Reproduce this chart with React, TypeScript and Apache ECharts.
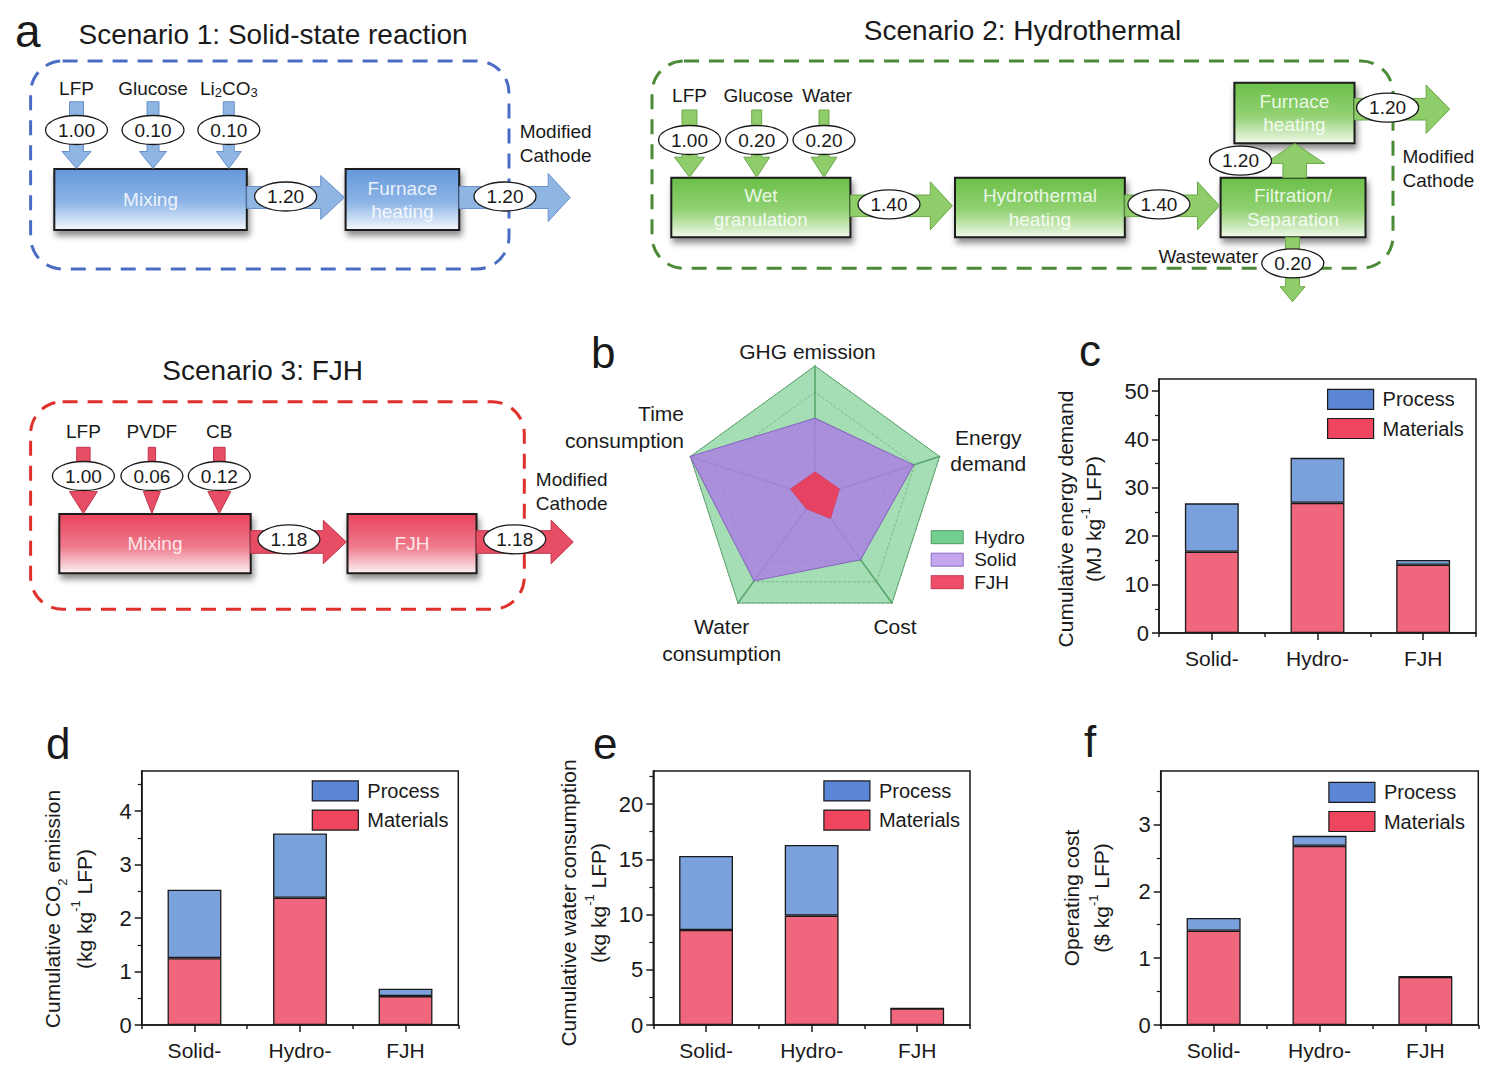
import React, { useEffect, useRef } from 'react';
import * as echarts from 'echarts';

const FONT = '"Liberation Sans", Arial, Helvetica, sans-serif';
const INK = '#1a1a1a';

// ---------------- data ----------------
const categories = ['Solid-', 'Hydro-', 'FJH'];
const energyMaterials = [16.8, 26.9, 14.1];
const energyProcess = [10.0, 9.3, 1.0];
const co2Materials = [1.25, 2.38, 0.54];
const co2Process = [1.28, 1.2, 0.14];
const waterMaterials = [8.6, 9.9, 1.5];
const waterProcess = [6.7, 6.4, 0.0];
const costMaterials = [1.41, 2.68, 0.72];
const costProcess = [0.19, 0.15, 0.01];
const energyTicks = [0, 10, 20, 30, 40, 50];
const co2Ticks = [0, 1, 2, 3, 4];
const waterTicks = [0, 5, 10, 15, 20];
const costTicks = [0, 1, 2, 3];

const radarAxes = ['GHG emission', 'Time consumption', 'Water consumption', 'Cost', 'Energy demand'];
const radarNames = ['Hydro', 'Solid', 'FJH'];
const radarHydro = [1, 1, 1, 1, 1];
const radarSolid = [0.6, 1.0, 0.79, 0.59, 0.79];
const radarFJH = [0.19, 0.195, 0.11, 0.2, 0.195];

const s1Inputs = ['LFP', 'Glucose', 'Li{s|2}CO{s|3}'];
const s1InputFlows = ['1.00', '0.10', '0.10'];
const s1Steps = ['Mixing', 'Furnace\nheating'];
const s1Flows = ['1.20', '1.20'];
const s2Inputs = ['LFP', 'Glucose', 'Water'];
const s2InputFlows = ['1.00', '0.20', '0.20'];
const s2Steps = ['Wet\ngranulation', 'Hydrothermal\nheating', 'Filtration/\nSeparation', 'Furnace\nheating'];
const s2Flows = ['1.40', '1.40', '1.20', '1.20', '0.20'];
const s3Inputs = ['LFP', 'PVDF', 'CB'];
const s3InputFlows = ['1.00', '0.06', '0.12'];
const s3Steps = ['Mixing', 'FJH'];
const s3Flows = ['1.18', '1.18'];

// ---------------- helpers ----------------
const SUBRICH = { s: { fontSize: 13, fontFamily: FONT, fill: INK, verticalAlign: 'bottom', lineHeight: 17 } };

function T(x: number, y: number, text: string, size: number, o: any = {}) {
  const align = o.align ?? 'center';
  return {
    type: 'text', x, y, silent: true, z: 30,
    style: {
      text, fontSize: size, fontFamily: FONT, fill: o.fill ?? INK,
      align, textAlign: align, verticalAlign: 'middle', textVerticalAlign: 'middle',
      lineHeight: o.lh, rich: o.rich,
    },
  };
}

function grad(top: string, mid: string, bottom: string) {
  return {
    type: 'linear', x: 0, y: 0, x2: 0, y2: 1,
    colorStops: [{ offset: 0, color: top }, { offset: 0.55, color: mid }, { offset: 1, color: bottom }],
  };
}

function box(x: number, y: number, w: number, h: number, pal: any, label: string, lh: number) {
  return [
    {
      type: 'rect', z: 10, shape: { x, y, width: w, height: h },
      style: {
        fill: grad(pal.top, pal.mid, pal.bottom), stroke: INK, lineWidth: 2,
        shadowBlur: 6, shadowOffsetX: 2, shadowOffsetY: 5, shadowColor: 'rgba(0,0,0,0.45)',
      },
    },
    T(x + w / 2, y + h / 2, label, 19, { fill: 'rgba(255,255,255,0.85)', lh }),
  ];
}

function rArrow(x0: number, tip: number, cy: number, head: number, hs: number, hh: number, pal: any) {
  const x1 = tip - head;
  return {
    type: 'polygon', z: 12,
    shape: { points: [[x0, cy - hs], [x1, cy - hs], [x1, cy - hh], [tip, cy], [x1, cy + hh], [x1, cy + hs], [x0, cy + hs]] },
    style: { fill: pal.arrow, stroke: pal.arrowStroke, lineWidth: 1 },
  };
}

function vArrow(cx: number, y0: number, tip: number, head: number, ws: number, wh: number, pal: any) {
  const sg = tip > y0 ? 1 : -1;
  const yb = tip - sg * head;
  return {
    type: 'polygon', z: 12,
    shape: { points: [[cx - ws, y0], [cx - ws, yb], [cx - wh, yb], [cx, tip], [cx + wh, yb], [cx + ws, yb], [cx + ws, y0]] },
    style: { fill: pal.arrow, stroke: pal.arrowStroke, lineWidth: 1 },
  };
}

function oval(cx: number, cy: number, label: string) {
  return [
    { type: 'ellipse', z: 20, shape: { cx, cy, rx: 31, ry: 14.5 }, style: { fill: '#ffffff', stroke: INK, lineWidth: 1.3 } },
    T(cx, cy, label, 19),
  ];
}

function dashFrame(x: number, y: number, w: number, h: number, color: string) {
  return {
    type: 'rect', z: 5, shape: { x, y, width: w, height: h, r: 32 },
    style: { fill: 'none', stroke: color, lineWidth: 3, lineDash: [15, 10] },
  };
}

const BLUE = { dash: '#4a6cc4', top: '#6598db', mid: '#8db5e6', bottom: '#f4f8fd', arrow: '#8fb5e3', arrowStroke: '#6a91cb' };
const GREEN = { dash: '#4b8a36', top: '#6abf48', mid: '#93d273', bottom: '#f0f9ea', arrow: '#8fcc6a', arrowStroke: '#6aa84a' };
const RED = { dash: '#e0302c', top: '#e8445e', mid: '#ef7a8c', bottom: '#fdf1f3', arrow: '#e84d66', arrowStroke: '#c0354c' };

function buildGraphics() {
  const g: any[] = [];
  // panel letters
  g.push(T(15, 30.6, 'a', 46, { align: 'left' }));
  g.push(T(591, 352, 'b', 44, { align: 'left' }));
  g.push(T(1079, 350, 'c', 44, { align: 'left' }));
  g.push(T(46, 743, 'd', 44, { align: 'left' }));
  g.push(T(593, 743, 'e', 44, { align: 'left' }));
  g.push(T(1084, 741, 'f', 44, { align: 'left' }));

  // ---- Scenario 1 ----
  g.push(T(78.5, 34.5, 'Scenario 1: Solid-state reaction', 28, { align: 'left' }));
  g.push(dashFrame(30.6, 61, 478.4, 208, BLUE.dash));
  g.push(...box(54.3, 169, 192.5, 61, BLUE, s1Steps[0], 23));
  g.push(...box(345.6, 169, 113.6, 61, BLUE, s1Steps[1], 23));
  const s1x = [76.5, 153, 228.8];
  const s1ws = [7, 6, 5.5];
  const s1wh = [14.5, 13.5, 12.5];
  s1x.forEach((x, i) => {
    g.push(vArrow(x, 101.7, 168.5, 17, s1ws[i], s1wh[i], BLUE));
    g.push(...oval(x, 130, s1InputFlows[i]));
    g.push(T(x, 88.3, s1Inputs[i], 19, { rich: SUBRICH, lh: 22 }));
  });
  g.push(rArrow(246.8, 344.4, 197.5, 23.7, 11, 22, BLUE));
  g.push(...oval(285.6, 196.5, s1Flows[0]));
  g.push(rArrow(459.2, 570.2, 197.5, 22, 11, 24, BLUE));
  g.push(...oval(505, 196.5, s1Flows[1]));
  g.push(T(519.7, 143.8, 'Modified\nCathode', 19, { align: 'left', lh: 24.3 }));

  // ---- Scenario 2 ----
  g.push(T(1022.6, 30, 'Scenario 2: Hydrothermal', 28));
  g.push(dashFrame(652, 61, 741, 207.3, GREEN.dash));
  g.push(...box(671.3, 177.7, 179.1, 59.6, GREEN, s2Steps[0], 23.5));
  g.push(...box(955, 177.7, 169.8, 59.6, GREEN, s2Steps[1], 23.5));
  g.push(...box(1220.6, 177.7, 144.9, 59.6, GREEN, s2Steps[2], 23.5));
  g.push(...box(1234.4, 82.7, 120.1, 60.6, GREEN, s2Steps[3], 23.5));
  const s2x = [689.5, 756.7, 824];
  const s2lx = [689.5, 758.4, 827.2];
  const s2ws = [7.5, 5, 5];
  const s2wh = [15, 13, 13];
  s2x.forEach((x, i) => {
    g.push(vArrow(x, 110, 177.2, 20, s2ws[i], s2wh[i], GREEN));
    g.push(...oval(x, 140, s2InputFlows[i]));
    g.push(T(s2lx[i], 95, s2Inputs[i], 19));
  });
  g.push(rArrow(850.4, 952.3, 205.8, 22, 10.8, 24, GREEN));
  g.push(...oval(889, 204.3, s2Flows[0]));
  g.push(rArrow(1124.8, 1219.5, 205.8, 22, 10.8, 24, GREEN));
  g.push(...oval(1158.9, 204.3, s2Flows[1]));
  g.push(vArrow(1294.75, 177.7, 143.5, 20, 11.8, 30, GREEN));
  g.push(...oval(1240.5, 160.7, s2Flows[2]));
  g.push(rArrow(1354.5, 1449.8, 109.2, 23.7, 10.8, 24.2, GREEN));
  g.push(...oval(1387.6, 107.7, s2Flows[3]));
  g.push(vArrow(1292.5, 237.3, 301.7, 15, 7, 12.5, GREEN));
  g.push(...oval(1292.8, 263.3, s2Flows[4]));
  g.push(T(1258, 256.7, 'Wastewater', 19, { align: 'right' }));
  g.push(T(1402.5, 168.8, 'Modified\nCathode', 19, { align: 'left', lh: 24.3 }));

  // ---- Scenario 3 ----
  g.push(T(262.7, 370.5, 'Scenario 3: FJH', 28));
  g.push(dashFrame(30.6, 401.7, 493.7, 207.6, RED.dash));
  g.push(...box(59.3, 514, 191.4, 59.3, RED, s3Steps[0], 23));
  g.push(...box(347.5, 514, 129, 59.3, RED, s3Steps[1], 23));
  const s3x = [83.4, 151.9, 219.3];
  const s3ws = [6.7, 3.7, 5.8];
  const s3wh = [14, 8.5, 11.5];
  s3x.forEach((x, i) => {
    g.push(vArrow(x, 447.3, 513.5, 22, s3ws[i], s3wh[i], RED));
    g.push(...oval(x, 476, s3InputFlows[i]));
    g.push(T(x, 431.7, s3Inputs[i], 19));
  });
  g.push(rArrow(250.7, 346.3, 542, 23, 11.3, 21.7, RED));
  g.push(...oval(288.9, 539.3, s3Flows[0]));
  g.push(rArrow(476.5, 573.3, 542, 22.2, 11.3, 21.7, RED));
  g.push(...oval(514.7, 539.3, s3Flows[1]));
  g.push(T(535.8, 491.3, 'Modified\nCathode', 19, { align: 'left', lh: 23.5 }));

  // ---- radar axis names ----
  g.push(T(807.5, 351.7, radarAxes[0], 21));
  g.push(T(684, 426.7, 'Time\nconsumption', 21, { align: 'right', lh: 26.7 }));
  g.push(T(721.7, 640, 'Water\nconsumption', 21, { lh: 26.7 }));
  g.push(T(895, 626.7, radarAxes[3], 21));
  g.push(T(988.3, 450.3, 'Energy\ndemand', 21, { lh: 26 }));
  return g;
}

const MAT = '#f0667c';
const PROC = '#7ba1dd';
const MAT_LEG = '#f0455e';
const PROC_LEG = '#5b86d5';

const panels = [
  { left: 1159, top: 379, width: 317, height: 254, max: 52.5, interval: 10, ticks: energyTicks,
    name: 'Cumulative energy demand\n(MJ kg{sup|-1} LFP)', nameGap: 52, lh: 28, pad: 26,
    materials: energyMaterials, process: energyProcess, lLeft: 1327, lTop: 388.7 },
  { left: 141.7, top: 771, width: 316.6, height: 254, max: 4.75, interval: 1, ticks: co2Ticks,
    name: 'Cumulative CO{sub|2} emission\n(kg kg{sup|-1} LFP)', nameGap: 41, lh: 32, pad: 22,
    materials: co2Materials, process: co2Process, lLeft: 311.7, lTop: 780.3 },
  { left: 653.3, top: 771, width: 316.7, height: 254, max: 23, interval: 5, ticks: waterTicks,
    name: 'Cumulative water consumption\n(kg kg{sup|-1} LFP)', nameGap: 40, lh: 30, pad: 10,
    materials: waterMaterials, process: waterProcess, lLeft: 823.3, lTop: 780.3 },
  { left: 1160.7, top: 771, width: 317.6, height: 254, max: 3.8, interval: 1, ticks: costTicks,
    name: 'Operating cost\n($ kg{sup|-1} LFP)', nameGap: 44, lh: 30, pad: 0,
    materials: costMaterials, process: costProcess, lLeft: 1328.3, lTop: 781.7 },
];

function buildOption() {
  const grid: any[] = [];
  const xAxis: any[] = [];
  const yAxis: any[] = [];
  const series: any[] = [];
  const legend: any[] = [];
  const axisLineStyle = { color: INK, width: 1.5 };
  panels.forEach((p, i) => {
    grid.push({ left: p.left, top: p.top, width: p.width, height: p.height, show: true,
      borderColor: INK, borderWidth: 1.5, backgroundColor: 'rgba(0,0,0,0)', outerBoundsMode: 'none', containLabel: false });
    xAxis.push({ type: 'category', gridIndex: i, data: categories, position: 'bottom',
      axisLine: { show: true, lineStyle: axisLineStyle },
      axisTick: { show: true, alignWithLabel: true, length: 7, lineStyle: axisLineStyle },
      axisLabel: { color: INK, fontSize: 21, margin: 15, fontFamily: FONT },
      splitLine: { show: false } });
    xAxis.push({ type: 'category', gridIndex: i, data: categories, position: 'bottom',
      axisLine: { show: false },
      axisTick: { show: true, length: 4, lineStyle: axisLineStyle },
      axisLabel: { show: false }, splitLine: { show: false } });
    yAxis.push({ type: 'value', gridIndex: i, min: 0, max: p.max, interval: p.interval,
      axisLine: { show: true, lineStyle: axisLineStyle },
      axisTick: { show: true, length: 7, lineStyle: axisLineStyle, customValues: p.ticks },
      minorTick: { show: true, splitNumber: 2, length: 4, lineStyle: { color: INK, width: 1.2 } },
      splitLine: { show: false }, minorSplitLine: { show: false },
      axisLabel: { color: INK, fontSize: 22, margin: 10, fontFamily: FONT, customValues: p.ticks },
      name: p.name, nameLocation: 'middle', nameRotate: 90, nameGap: p.nameGap,
      nameTextStyle: { color: INK, fontSize: 21, fontFamily: FONT, lineHeight: p.lh, padding: [0, p.pad, 0, 0],
        rich: {
          sup: { fontSize: 13, fontFamily: FONT, color: INK, verticalAlign: 'top', lineHeight: 20 },
          sub: { fontSize: 13, fontFamily: FONT, color: INK, verticalAlign: 'bottom', lineHeight: 20 },
        } } });
    series.push({ type: 'bar', name: 'Materials', xAxisIndex: 2 * i, yAxisIndex: i, stack: 'st' + i,
      data: p.materials, barWidth: '51%', itemStyle: { color: MAT, borderColor: INK, borderWidth: 1.3 } });
    series.push({ type: 'bar', name: 'Process', xAxisIndex: 2 * i, yAxisIndex: i, stack: 'st' + i,
      data: p.process, barWidth: '51%', itemStyle: { color: PROC, borderColor: INK, borderWidth: 1.3 } });
    legend.push({ orient: 'vertical', left: p.lLeft, top: p.lTop, padding: 0, itemWidth: 46, itemHeight: 20,
      itemGap: 8, icon: 'rect', selectedMode: false,
      itemStyle: { borderColor: INK, borderWidth: 1.2 },
      textStyle: { fontSize: 20, color: INK, fontFamily: FONT, padding: [0, 0, 0, 4] },
      data: [{ name: 'Process', itemStyle: { color: PROC_LEG } }, { name: 'Materials', itemStyle: { color: MAT_LEG } }] });
  });

  legend.push({ orient: 'vertical', left: 930.7, top: 527.7, padding: 0, itemWidth: 32, itemHeight: 13,
    itemGap: 3.5, icon: 'rect', selectedMode: false,
    textStyle: { fontSize: 19, color: INK, fontFamily: FONT, padding: [0, 0, 0, 6] },
    data: [
      { name: radarNames[0], itemStyle: { color: '#72cf8e', borderColor: '#4f9a63', borderWidth: 1 } },
      { name: radarNames[1], itemStyle: { color: '#c4a6ec', borderColor: '#8a6cc0', borderWidth: 1 } },
      { name: radarNames[2], itemStyle: { color: '#ee4d67', borderColor: '#c23550', borderWidth: 1 } },
    ] });

  series.push({ type: 'radar', radarIndex: 0, symbol: 'none', z: 2,
    data: [
      { name: radarNames[0], value: radarHydro, itemStyle: { color: '#72cf8e' },
        lineStyle: { color: '#5b9a68', width: 1 }, areaStyle: { color: 'rgba(110,200,135,0.62)', opacity: 1 } },
      { name: radarNames[1], value: radarSolid, itemStyle: { color: '#c4a6ec' },
        lineStyle: { color: '#7b5cb5', width: 1.3 }, areaStyle: { color: 'rgba(170,129,226,0.85)', opacity: 1 } },
      { name: radarNames[2], value: radarFJH, itemStyle: { color: '#ee4d67' },
        lineStyle: { color: '#d8324f', width: 1 }, areaStyle: { color: 'rgba(232,64,94,0.96)', opacity: 1 } },
    ] });

  return {
    animation: false,
    backgroundColor: '#ffffff',
    textStyle: { fontFamily: FONT },
    grid, xAxis, yAxis, series, legend,
    radar: {
      center: [815, 497], radius: 131, startAngle: 90, shape: 'polygon', splitNumber: 5,
      indicator: radarAxes.map((n) => ({ name: n, min: 0, max: 1 })),
      axisName: { show: false },
      axisLine: { lineStyle: { color: '#2e6e34', width: 1.5 } },
      splitLine: { lineStyle: { color: '#7a8a7c', type: 'dashed', width: 0.8 } },
      splitArea: { show: false },
    },
    graphic: { elements: buildGraphics() },
  };
}

export default function App() {
  const ref = useRef<HTMLDivElement>(null);
  useEffect(() => {
    const chart = echarts.init(ref.current as HTMLDivElement, undefined, { renderer: 'svg' });
    chart.setOption(buildOption() as any);
    return () => chart.dispose();
  }, []);
  return (
    <div
      ref={ref}
      style={{ position: 'absolute', left: 0, top: 0, width: 1494, height: 1071, background: '#ffffff' }}
    />
  );
}
